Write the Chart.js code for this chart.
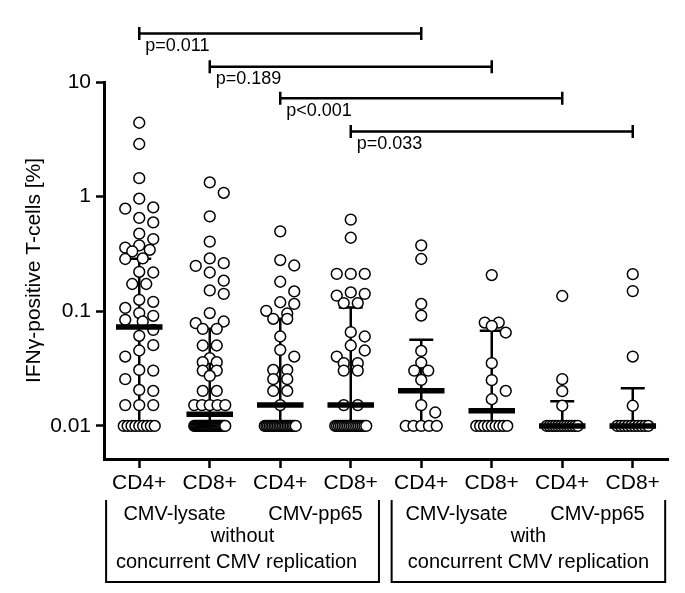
<!DOCTYPE html>
<html>
<head>
<meta charset="utf-8">
<script src="https://cdn.jsdelivr.net/npm/chart.js@4/dist/chart.umd.min.js"></script>
<style>
  html, body { margin: 0; padding: 0; background: #ffffff; }
  #wrap { width: 685px; height: 593px; }
</style>
</head>
<body>
<div id="wrap"><canvas id="c" width="685" height="593"></canvas></div>
<script>
// ---------------- data ----------------
const categories = ['CD4+', 'CD8+', 'CD4+', 'CD8+', 'CD4+', 'CD8+', 'CD4+', 'CD8+'];

const lysateCD4Without = [4.41, 2.88, 1.45, 0.96, 0.805, 0.785, 0.652, 0.596, 0.475, 0.427, 0.376, 0.359, 0.344, 0.333, 0.289, 0.286,
  0.221, 0.218, 0.173, 0.173, 0.126, 0.121, 0.107, 0.0965, 0.0914, 0.0843, 0.0815, 0.0689, 0.0611, 0.0507, 0.0455, 0.0403,
  0.0308, 0.0304, 0.0256, 0.0206, 0.0202, 0.0152, 0.0152, 0.0152,
  0.01, 0.01, 0.01, 0.01, 0.01, 0.01, 0.01, 0.01, 0.01];
const lysateCD8Without = [1.33, 1.08, 0.673, 0.405, 0.289, 0.263, 0.249, 0.218, 0.185, 0.152, 0.142, 0.0965, 0.0815, 0.0788,
  0.0703, 0.0703, 0.0503, 0.0503, 0.039, 0.036, 0.036, 0.0304, 0.0304, 0.0273, 0.0202, 0.0202,
  0.0152, 0.0152, 0.0152, 0.0152, 0.0152,
  0.01, 0.01, 0.01, 0.01, 0.01, 0.01, 0.01, 0.01, 0.01, 0.01, 0.01, 0.01, 0.01, 0.01, 0.01, 0.01,
  0.01, 0.01, 0.01, 0.01, 0.01, 0.01, 0.01, 0.01, 0.01, 0.01, 0.01, 0.01, 0.01, 0.01, 0.01];
const pp65CD4Without = [0.498, 0.280, 0.251, 0.181, 0.149, 0.120, 0.116, 0.101, 0.0957, 0.086, 0.086, 0.0603, 0.0461, 0.0403,
  0.0308, 0.0308, 0.0256, 0.0256, 0.0202, 0.0202, 0.0152,
  0.01, 0.01, 0.01, 0.01, 0.01, 0.01, 0.01, 0.01, 0.01, 0.01, 0.01, 0.01, 0.01, 0.01, 0.01, 0.01, 0.01, 0.01, 0.01, 0.01];
const pp65CD8Without = [0.630, 0.438, 0.212, 0.212, 0.212, 0.146, 0.142, 0.137, 0.118, 0.118, 0.0658, 0.0603, 0.0503, 0.0455,
  0.0403, 0.0353, 0.0353, 0.0304, 0.0304, 0.0152, 0.0152,
  0.01, 0.01, 0.01, 0.01, 0.01, 0.01, 0.01, 0.01, 0.01, 0.01, 0.01, 0.01, 0.01, 0.01, 0.01, 0.01, 0.01, 0.01];
const lysateCD4With = [0.376, 0.286, 0.116, 0.0918, 0.0451, 0.0357, 0.0304, 0.0304, 0.0252, 0.0152, 0.0131,
  0.01, 0.01, 0.01, 0.01, 0.01];
const lysateCD8With = [0.207, 0.0798, 0.0798, 0.0746, 0.0653, 0.0353, 0.0251, 0.0202, 0.0171,
  0.01, 0.01, 0.01, 0.01, 0.01, 0.01, 0.01, 0.01, 0.01];
const pp65CD4With = [0.136, 0.0256, 0.0201, 0.0150,
  0.01, 0.01, 0.01, 0.01, 0.01, 0.01, 0.01, 0.01, 0.01, 0.01, 0.01, 0.01];
const pp65CD8With = [0.211, 0.150, 0.0403, 0.0150,
  0.01, 0.01, 0.01, 0.01, 0.01, 0.01, 0.01, 0.01, 0.01, 0.01];

const groupValues = [lysateCD4Without, lysateCD8Without, pp65CD4Without, pp65CD8Without,
                     lysateCD4With, lysateCD8With, pp65CD4With, pp65CD8With];

// median and interquartile range drawn in the picture
const medians        = [0.0728, 0.01265, 0.0152, 0.0152, 0.0203, 0.0136, 0.01, 0.01];
const upperQuartiles = [0.288, 0.0703, 0.086, 0.108, 0.0564, 0.0676, 0.0164, 0.0213];
const lowerQuartiles = [0.01, 0.01, 0.01, 0.01, 0.01, 0.01, 0.01, 0.01];

// y axis ticks
const yTickValues = [0.01, 0.1, 1, 10];
const yTickLabels = ['0.01', '0.1', '1', '10'];
const yTitle = 'IFN\u03B3-positive T-cells [%]';

// comparisons (category index from / to, bracket level in axis units, label)
const compFrom   = [0, 1, 2, 3];
const compTo     = [4, 5, 6, 7];
const compLevel  = [26.5, 13.6, 7.2, 3.7];
const compLabels = ['p=0.011', 'p=0.189', 'p<0.001', 'p=0.033'];

// lower grouping boxes
const antigenLabels   = ['CMV-lysate', 'CMV-pp65', 'CMV-lysate', 'CMV-pp65'];
const antigenCenters  = [0.5, 2.5, 4.5, 6.5];
const boxFrom         = [-0.47, 3.58];
const boxTo           = [3.40, 7.46];
const conditionLabels = ['without', 'with'];
const conditionLine2  = 'concurrent CMV replication';

// ---------------- chart ----------------
const FONT = "'Liberation Sans', Arial, Helvetica, sans-serif";
Chart.defaults.font.family = FONT;
Chart.defaults.color = '#000';

function segments(fn) {
  const out = [];
  for (let i = 0; i < categories.length; i++) {
    fn(i).forEach(p => out.push(p));
    out.push({ x: i, y: null });
  }
  return out;
}

const whiskerData = segments(i => [{ x: i, y: lowerQuartiles[i] }, { x: i, y: upperQuartiles[i] }]);
const capData = segments(i => [{ x: i - 0.17, y: upperQuartiles[i] }, { x: i + 0.17, y: upperQuartiles[i] }]);
const medianData = segments(i => [{ x: i - 0.33, y: medians[i] }, { x: i + 0.33, y: medians[i] }]);

const pointDatasets = groupValues.map((vals, i) => ({
  type: 'scatter',
  data: vals.map(v => ({ x: i, y: v })),
  pointRadius: 5.4,
  pointHoverRadius: 5.4,
  pointBackgroundColor: '#ffffff',
  pointBorderColor: '#000000',
  pointBorderWidth: 1.5,
  order: 2
}));

const annotationPlugin = {
  id: 'annotations',
  afterDraw(chart) {
    const ctx = chart.ctx;
    const xs = chart.scales.x, ys = chart.scales.y;
    const area = chart.chartArea;
    ctx.save();
    ctx.strokeStyle = '#000';
    ctx.fillStyle = '#000';
    // comparison brackets
    ctx.lineWidth = 2.5;
    ctx.font = '18px ' + FONT;
    ctx.textAlign = 'left';
    ctx.textBaseline = 'alphabetic';
    for (let b = 0; b < compFrom.length; b++) {
      const x1 = xs.getPixelForValue(compFrom[b]);
      const x2 = xs.getPixelForValue(compTo[b]);
      const y = ys.getPixelForValue(compLevel[b]);
      ctx.beginPath();
      ctx.moveTo(x1, y); ctx.lineTo(x2, y);
      ctx.moveTo(x1, y - 6.5); ctx.lineTo(x1, y + 6.5);
      ctx.moveTo(x2, y - 6.5); ctx.lineTo(x2, y + 6.5);
      ctx.stroke();
      ctx.fillText(compLabels[b], x1 + 6, y + 17.5);
    }
    // group boxes
    const top = area.bottom + 41, bottom = area.bottom + 123;
    ctx.lineWidth = 2;
    for (let k = 0; k < boxFrom.length; k++) {
      const x1 = xs.getPixelForValue(boxFrom[k]);
      const x2 = xs.getPixelForValue(boxTo[k]);
      ctx.beginPath();
      ctx.moveTo(x1, top); ctx.lineTo(x1, bottom); ctx.lineTo(x2, bottom); ctx.lineTo(x2, top);
      ctx.stroke();
    }
    ctx.font = '20px ' + FONT;
    ctx.textAlign = 'center';
    for (let k = 0; k < antigenLabels.length; k++) {
      ctx.fillText(antigenLabels[k], xs.getPixelForValue(antigenCenters[k]), area.bottom + 61);
    }
    for (let k = 0; k < boxFrom.length; k++) {
      const cx = xs.getPixelForValue((boxFrom[k] + boxTo[k]) / 2);
      ctx.fillText(conditionLabels[k], cx, area.bottom + 82.5);
      ctx.fillText(conditionLine2, cx - (k === 0 ? 6 : 0), area.bottom + 109);
    }
    ctx.restore();
  }
};

const chart = new Chart(document.getElementById('c'), {
  type: 'scatter',
  data: {
    datasets: [
      { type: 'line', data: whiskerData, borderColor: '#000', borderWidth: 2.5, pointRadius: 0, spanGaps: false, order: 3, borderCapStyle: 'butt' },
      { type: 'line', data: capData, borderColor: '#000', borderWidth: 2.5, pointRadius: 0, spanGaps: false, order: 3, borderCapStyle: 'butt' },
      ...pointDatasets,
      { type: 'line', data: medianData, borderColor: '#000', borderWidth: 5.5, pointRadius: 0, spanGaps: false, order: 1, borderCapStyle: 'butt' }
    ]
  },
  options: {
    responsive: false,
    animation: false,
    events: [],
    layout: { padding: { top: 82, right: 17, left: 0, bottom: 0 } },
    plugins: { legend: { display: false }, tooltip: { enabled: false } },
    scales: {
      x: {
        type: 'linear',
        position: 'bottom',
        min: -0.5,
        max: 7.5,
        afterBuildTicks: s => { s.ticks = categories.map((c, i) => ({ value: i })); },
        afterFit: s => { s.height = 134; },
        ticks: {
          autoSkip: false, maxRotation: 0, padding: 3,
          font: { size: 21 }, color: '#000',
          callback: v => categories[Math.round(v)]
        },
        grid: { drawOnChartArea: false, drawTicks: true, tickLength: 9, tickWidth: 2.5, tickColor: '#000', color: '#000' },
        border: { display: true, color: '#000', width: 3 }
      },
      y: {
        type: 'logarithmic',
        min: 0.00515,
        max: 10,
        afterBuildTicks: s => { s.ticks = yTickValues.map(v => ({ value: v })); },
        afterFit: s => { s.width = 104; },
        ticks: {
          padding: 5, font: { size: 21 }, color: '#000',
          callback: v => { const k = yTickValues.indexOf(v); return k >= 0 ? yTickLabels[k] : ''; }
        },
        grid: { drawOnChartArea: false, drawTicks: true, tickLength: 8, tickWidth: 2.5, tickColor: '#000', color: '#000' },
        border: { display: true, color: '#000', width: 3 },
        title: { display: true, text: yTitle, font: { size: 21 }, color: '#000', padding: { top: 22, bottom: 0 } }
      }
    }
  },
  plugins: [annotationPlugin]
});

// ---- beeswarm layout of the dots (computed from values through the chart's scales) ----
function swarmOffsets(values, yPix, unitPx) {
  const D = 11.5, W = 15.5;
  const cands = [0, 14, -14, 7, -7, 10.5, -10.5, 3.5, -3.5];
  const order = values.map((v, i) => i).sort((a, b) => values[b] - values[a]);
  const placed = [];
  const off = new Array(values.length).fill(0);
  let k = 0;
  while (k < order.length) {
    let j = k;
    while (j + 1 < order.length && values[order[j + 1]] === values[order[k]]) j++;
    const n = j - k + 1;
    const y = yPix(values[order[k]]);
    if (n > 1) {
      const sp = Math.min(14, 2 * W / (n - 1));
      for (let m = 0; m < n; m++) {
        const dx = (m - (n - 1) / 2) * sp;
        off[order[k + m]] = dx;
        placed.push([dx, y]);
      }
    } else {
      let best = 0, bestD = -1;
      for (const c of cands) {
        let md = Infinity;
        for (const p of placed) md = Math.min(md, Math.hypot(c - p[0], y - p[1]));
        if (md >= D) { best = c; break; }
        if (md > bestD) { bestD = md; best = c; }
      }
      off[order[k]] = best;
      placed.push([best, y]);
    }
    k = j + 1;
  }
  return off.map(dx => dx / unitPx);
}

const xs = chart.scales.x, ys = chart.scales.y;
const unitPx = xs.getPixelForValue(1) - xs.getPixelForValue(0);
groupValues.forEach((vals, i) => {
  const offs = swarmOffsets(vals, v => ys.getPixelForValue(v), unitPx);
  chart.data.datasets[2 + i].data = vals.map((v, k) => ({ x: i + offs[k], y: v }));
});
chart.update('none');
</script>
</body>
</html>
